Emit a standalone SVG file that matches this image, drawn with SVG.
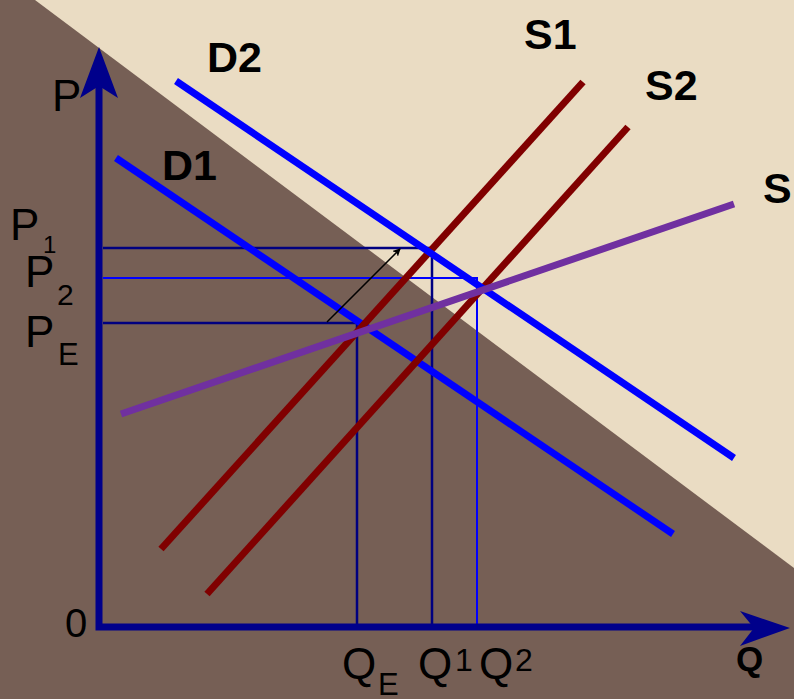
<svg xmlns="http://www.w3.org/2000/svg" width="794" height="699" viewBox="0 0 794 699">
<defs>
<style>
.lbl{font-family:"Liberation Sans",Arial,sans-serif;fill:#000}
.b{font-weight:bold;font-size:43px}
.r{font-size:44px}
.axis{stroke:#00008B;stroke-width:7;fill:none}
.dem{stroke:#0000FF;stroke-width:7;stroke-linecap:butt}
.sup{stroke:#800000;stroke-width:7}
.gn{stroke:#000080;stroke-width:2.5;fill:none}
.gb{stroke:#0000FF;stroke-width:2;fill:none}
</style>
<marker id="ah" markerWidth="8" markerHeight="8" refX="7" refY="4" orient="auto" markerUnits="userSpaceOnUse">
<path d="M0,0 L8,4 L0,8 L2,4 Z" fill="#000"/>
</marker>
</defs>
<rect width="794" height="699" fill="#EADCC3"/>
<polygon points="35,0 794,568 794,699 0,699 0,0" fill="#765F55"/>

<g id="connectors">
<g id="guides">
<polyline class="gn" points="103,248 432,248 432,627"/>
<polyline class="gb" points="103,278 477,278 477,627"/>
<polyline class="gn" points="103,323 357,323 357,627"/>
</g>
<line id="D1" class="dem" x1="116" y1="158" x2="673" y2="534"/>
<line id="S1" class="sup" x1="161" y1="549" x2="583" y2="82"/>
<line id="S2" class="sup" x1="207" y1="594" x2="628" y2="127"/>
<line id="D2" class="dem" x1="176" y1="81" x2="734" y2="458"/>
<line id="S" stroke="#7030A0" stroke-width="7" x1="121" y1="414" x2="734" y2="204"/>
<line id="shift" stroke="#000" stroke-width="1.5" x1="327" y1="322" x2="400" y2="249" marker-end="url(#ah)"/>
</g>

<g id="axes">
<polyline class="axis" points="99,85 99,627 760,627"/>
<polygon points="99,47 118,98 99,86 80,98" fill="#00008B"/>
<polygon points="790,628 740,611 754,628 740,646" fill="#00008B"/>
</g>

<g id="labels">
<text class="lbl r" x="52" y="111">P</text>
<text class="lbl" x="65" y="637" font-size="40">0</text>
<text class="lbl r" x="10" y="240">P</text>
<text class="lbl" x="43" y="253" font-size="24">1</text>
<text class="lbl r" x="25" y="287">P</text>
<text class="lbl" x="57" y="305" font-size="30">2</text>
<text class="lbl r" x="25" y="347">P</text>
<text class="lbl" x="58" y="365" font-size="31">E</text>
<text class="lbl r" x="342" y="679">Q</text>
<text class="lbl" x="378" y="695" font-size="31">E</text>
<text class="lbl r" x="418" y="679">Q</text>
<text class="lbl" x="455" y="671" font-size="32">1</text>
<text class="lbl r" x="479" y="679">Q</text>
<text class="lbl" x="515" y="671" font-size="32">2</text>
<text class="lbl" x="736" y="671" style="font-weight:bold;font-size:35px">Q</text>
<text class="lbl b" x="207" y="72">D2</text>
<text class="lbl b" x="162" y="180">D1</text>
<text class="lbl b" x="524" y="49">S1</text>
<text class="lbl b" x="645" y="100">S2</text>
<text class="lbl b" x="763" y="203">S</text>
</g>
</svg>
